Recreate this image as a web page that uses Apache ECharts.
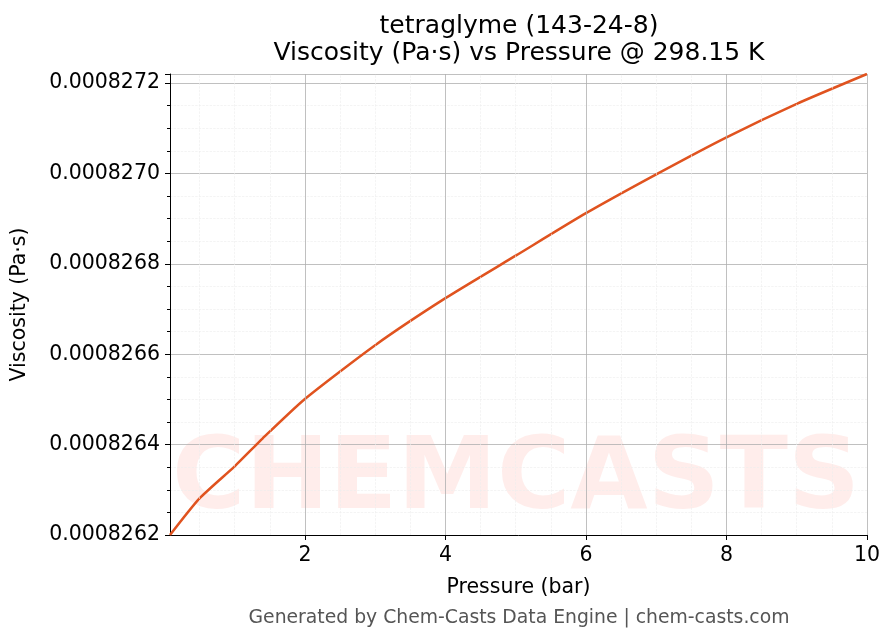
<!DOCTYPE html>
<html>
<head>
<meta charset="UTF-8">
<script src="https://cdn.jsdelivr.net/npm/echarts@6/dist/echarts.min.js"></script>
</head>
<body style="margin:0">
<div id="chart" style="width:896px;height:644px"></div>
<script>
var pressure = [0.08, 0.5, 1, 1.4, 2, 3, 4, 5, 6, 7, 8, 9, 10];
var viscosity = [0.0008262, 0.000826281, 0.000826352, 0.000826414, 0.000826501, 0.00082662,
    0.000826724, 0.000826818, 0.000826912, 0.000826998, 0.00082708, 0.000827154, 0.00082722];
var xTicks = [2, 4, 6, 8, 10];
var xMinor = [0.5, 1, 1.5, 2.5, 3, 3.5, 4.5, 5, 5.5, 6.5, 7, 7.5, 8.5, 9, 9.5];

var chart = echarts.init(document.getElementById('chart'));
var font = 'DejaVu Sans';
chart.setOption({
    animation: false,
    textStyle: {fontFamily: font},
    graphic: [
        {type: 'text', x: 172, y: 482, silent: true, z: -1,
            style: {text: 'CHEMCASTS', fontSize: 100, fontWeight: 'bold', fill: 'rgba(255,80,60,0.10)', fontFamily: font, verticalAlign: 'middle'}},
        {type: 'text', x: 519, y: 26, silent: true,
            style: {text: 'tetraglyme (143-24-8)', fontSize: 25, fill: '#000', fontFamily: font, align: 'center', verticalAlign: 'middle'}},
        {type: 'text', x: 519, y: 53, silent: true,
            style: {text: 'Viscosity (Pa·s) vs Pressure @ 298.15 K', fontSize: 25, fill: '#000', fontFamily: font, align: 'center', verticalAlign: 'middle'}},
        {type: 'text', x: 519, y: 618, silent: true,
            style: {text: 'Generated by Chem-Casts Data Engine | chem-casts.com', fontSize: 18.8, fill: '#555', fontFamily: font, align: 'center', verticalAlign: 'middle'}}
    ],
    grid: {left: 170, right: 29, top: 74, bottom: 109},
    xAxis: {
        type: 'value', min: 0.08, max: 10,
        name: 'Pressure (bar)', nameLocation: 'middle', nameGap: 42,
        nameTextStyle: {fontSize: 20.5, color: '#000'},
        axisLine: {onZero: false, lineStyle: {color: '#000'}},
        axisTick: {customValues: xTicks, length: 5, lineStyle: {color: '#000'}},
        axisLabel: {customValues: xTicks, fontSize: 20.5, color: '#000', margin: 10},
        splitLine: {show: false},
        minorTick: {show: false}
    },
    yAxis: {
        type: 'value', min: 0.0008262, max: 0.00082722, interval: 0.0000002,
        name: 'Viscosity (Pa·s)', nameLocation: 'middle', nameGap: 140,
        nameTextStyle: {fontSize: 20.5, color: '#000'},
        axisLine: {show: true, lineStyle: {color: '#000'}},
        axisTick: {length: 5, lineStyle: {color: '#000'}},
        axisLabel: {fontSize: 20.5, color: '#000', margin: 10, formatter: function (v) { return v.toFixed(7); }},
        splitLine: {lineStyle: {color: '#b0b0b0', width: 0.8}},
        minorTick: {show: true, splitNumber: 4, length: 3, lineStyle: {color: '#000'}},
        minorSplitLine: {show: true, lineStyle: {color: '#ececec', width: 0.6, type: 'dashed'}}
    },
    series: [
        {
            type: 'line', data: pressure.map(function (p, i) { return [p, viscosity[i]]; }),
            smooth: 0.2, showSymbol: false, lineStyle: {color: '#e0531f', width: 2.5},
            markLine: {
                silent: true, symbol: 'none', label: {show: false},
                lineStyle: {color: '#b0b0b0', width: 0.8, type: 'solid'},
                data: xTicks.map(function (x) { return {xAxis: x}; })
            }
        },
        {
            type: 'line', data: [],
            markLine: {
                silent: true, symbol: 'none', label: {show: false},
                lineStyle: {color: '#ececec', width: 0.6, type: 'dashed'},
                data: xMinor.map(function (x) { return {xAxis: x}; })
            }
        }
    ]
});
</script>
</body>
</html>
